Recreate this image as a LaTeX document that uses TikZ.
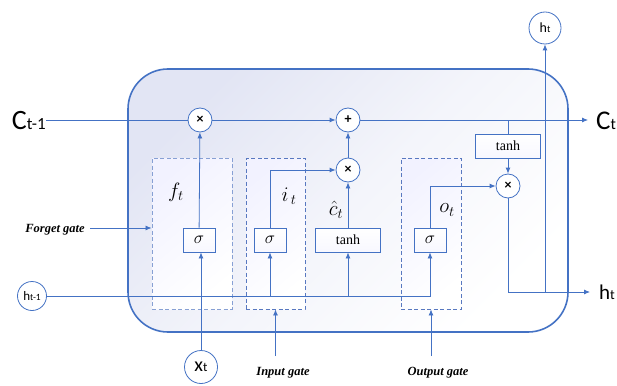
\documentclass[tikz,border=0pt]{standalone}
\usepackage{fontspec}
\setmainfont{Liberation Serif}
\newfontfamily\carlito{Carlito}
\usetikzlibrary{arrows.meta}

\definecolor{lstmblue}{RGB}{68,114,196}
\definecolor{gateblue}{RGB}{88,120,192}
\definecolor{gatelight}{RGB}{135,160,212}
\definecolor{panelgray}{RGB}{226,229,244}

% sans label: big letter with a smaller index on the same baseline
\newcommand{\sname}[4]{{\carlito\fontsize{#1}{#1}\selectfont #3\fontsize{#2}{#2}\selectfont #4}}

\tikzset{
  flow/.style={draw=lstmblue, line width=0.8pt},
  arr/.style={flow, -{Latex[length=6pt,width=5pt]}},
  op/.style={circle, draw=lstmblue, line width=0.8pt, fill=white, minimum size=24pt, inner sep=0pt,
    font=\carlito\bfseries\fontsize{14}{14}\selectfont},
  io/.style={circle, draw=lstmblue, line width=0.8pt, fill=white, minimum size=31pt, inner sep=0pt},
  actbox/.style={draw=lstmblue, line width=0.8pt, top color=white, bottom color=blue!3,
    minimum height=24pt, inner sep=0pt, font=\fontsize{14}{14}\selectfont},
  sigbox/.style={actbox, minimum width=32pt, font=\fontsize{19}{19}\selectfont},
  gatebox/.style={draw=gateblue, dashed, dash pattern=on 4pt off 2.5pt, line width=0.9pt, inner sep=0pt,
    shading=axis, top color=blue!5, bottom color=white, shading angle=40},
  gatename/.style={font=\fontsize{12.5}{12.5}\selectfont\bfseries\itshape},
  gatevar/.style={font=\fontsize{21}{21}\selectfont},
}

\begin{document}
\begin{tikzpicture}[x=1pt,y=-1pt]
  \useasboundingbox (0,0) rectangle (617,385);

  % the cell
  \node[draw=lstmblue, line width=1.6pt, rounded corners=40pt, shading=axis, top color=panelgray,
    bottom color=white, middle color=white!60!panelgray, shading angle=45,
    minimum width=440pt, minimum height=263pt] (cell) at (348,200.5) {};

  % gate frames
  \node[gatebox, draw=gatelight, minimum width=80pt, minimum height=151pt] (fgate) at (192,233.5) {};
  \node[gatebox, minimum width=59pt, minimum height=151pt] (igate) at (275.5,233.5) {};
  \node[gatebox, minimum width=60pt, minimum height=151pt] (ogate) at (431,233.5) {};

  % pointwise operations
  \node[op] (fmul) at (200,120) {×};
  \node[op] (add) at (348,120) {+};
  \node[op] (imul) at (348,170) {×};
  \node[op] (omul) at (508,186) {×};

  % layers
  \node[sigbox] (fsig) at (199,240) {$\sigma$};
  \node[sigbox] (isig) at (270,240) {$\sigma$};
  \node[actbox, minimum width=65pt] (ctanh) at (348,240) {tanh};
  \node[sigbox] (osig) at (430,240) {$\sigma$};
  \node[actbox, minimum width=65pt] (htanh) at (508,146) {tanh};

  % inputs and outputs
  \node[io, minimum size=29pt] (hprev) at (32,296) {\sname{13}{9.5}{h}{t-1}};
  \node[io, minimum size=33pt] (xin) at (201,367) {\sname{20}{13}{x}{t}};
  \node[io, minimum size=32pt] (hout) at (545,28) {\sname{14}{10}{h}{t}};
  \node[anchor=east, inner sep=0pt] (cprev) at (46,121) {\sname{28}{17}{C}{t-1}};
  \node[anchor=west, inner sep=0pt] (cnext) at (596,121) {\sname{27}{16}{C}{t}};
  \node[anchor=west, inner sep=0pt] (hnext) at (599,292) {\sname{21}{14}{h}{t}};

  % gate values
  \node[gatevar] (ft) at (176,192) {$f_t$};
  \node[gatevar] (it) at (289,196) {$i_{\,t}$};
  \node[gatevar] (ct) at (336,210) {$\hat{c}_t$};
  \node[gatevar] (ot) at (447,210) {$o_t$};

  % gate names
  \node[gatename] (fname) at (55,230) {Forget gate};
  \node[gatename] (iname) at (283,373) {Input gate};
  \node[gatename] (oname) at (438,373) {Output gate};

  % cell state
  \draw[flow] (cprev.east |- fmul) -- (fmul);
  \draw[arr] (fmul) -- (add);
  \draw[arr] (add) -- ([xshift=-8pt]cnext.west |- add);
  \draw[flow] (htanh.north |- add) -- (htanh.north);
  \draw[arr] (htanh) -- (omul);

  % gates
  \draw[arr] (fsig) -- (fmul);
  \draw[arr] (isig.north) |- (imul);
  \draw[arr] (ctanh) -- (imul);
  \draw[arr] (imul) -- (add);
  \draw[arr] (osig.north) |- (omul);

  % hidden state in
  \draw[arr] (hprev) -| (osig);
  \draw[arr] (isig |- hprev) -- (isig);
  \draw[arr] (ctanh |- hprev) -- (ctanh);
  \draw[arr] (xin) -- (xin |- fsig.south);

  % hidden state out
  \coordinate (hjoin) at (545,292);
  \draw[arr] (omul) |- ([xshift=-9pt]hnext.west |- hjoin);
  \draw[arr] (hjoin) -- (hout);

  % gate name pointers
  \draw[arr] ([xshift=2pt,yshift=2pt]fname.east) -- (fgate.west |- 0,228);
  \draw[arr] ([yshift=8pt]iname.north -| igate) -- (igate.south);
  \draw[arr] ([yshift=8pt]oname.north -| ogate) -- (ogate.south);
\end{tikzpicture}
\end{document}
